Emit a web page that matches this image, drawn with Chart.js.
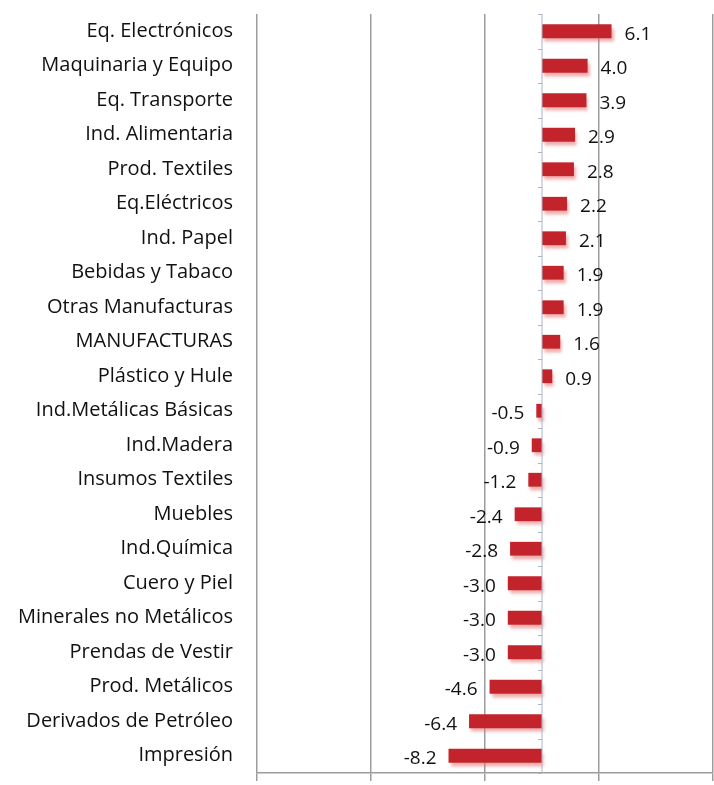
<!DOCTYPE html>
<html lang="es">
<head>
<meta charset="UTF-8">
<title>Crecimiento por rama</title>
<script src="https://cdn.jsdelivr.net/npm/chart.js"></script>
<style>
  html, body { margin: 0; padding: 0; background: #fff; }
  #wrap { position: relative; width: 714px; height: 785px; }
</style>
</head>
<body>
<div id="wrap"><canvas id="grafica"></canvas></div>
<script>
  const ramas = [
    "Eq. Electrónicos", "Maquinaria y Equipo", "Eq. Transporte", "Ind. Alimentaria",
    "Prod. Textiles", "Eq.Eléctricos", "Ind. Papel", "Bebidas y Tabaco",
    "Otras Manufacturas", "MANUFACTURAS", "Plástico y Hule", "Ind.Metálicas Básicas",
    "Ind.Madera", "Insumos Textiles", "Muebles", "Ind.Química", "Cuero y Piel",
    "Minerales no Metálicos", "Prendas de Vestir", "Prod. Metálicos",
    "Derivados de Petróleo", "Impresión"
  ];
  const variacion = [
    6.1, 4.0, 3.9, 2.9, 2.8, 2.2, 2.1, 1.9, 1.9, 1.6, 0.9,
    -0.5, -0.9, -1.2, -2.4, -2.8, -3.0, -3.0, -3.0, -4.6, -6.4, -8.2
  ];
  const ejeMin = -25, ejeMax = 15, paso = 10;

  const fuente = "'Open Sans', sans-serif";

  // linea del cero con sus marquitas entre categorias
  const lineaCero = {
    id: 'lineaCero',
    afterDatasetsDraw(chart) {
      const { ctx, chartArea, scales } = chart;
      const x0 = scales.x.getPixelForValue(0);
      ctx.save();
      ctx.strokeStyle = '#aab4c6';
      ctx.lineWidth = 1;
      ctx.beginPath();
      ctx.moveTo(x0, chartArea.top);
      ctx.lineTo(x0, chartArea.bottom);
      const n = ramas.length;
      const h = (chartArea.bottom - chartArea.top) / n;
      for (let i = 0; i <= n; i++) {
        const y = Math.round(chartArea.top + i * h) + 0.5;
        ctx.moveTo(x0 - 4, y);
        ctx.lineTo(x0, y);
      }
      ctx.stroke();
      ctx.restore();
    }
  };

  // valores junto a cada barra
  const etiquetas = {
    id: 'etiquetas',
    afterDatasetsDraw(chart) {
      const { ctx } = chart;
      const meta = chart.getDatasetMeta(0);
      ctx.save();
      ctx.font = "19px " + fuente;
      ctx.fillStyle = '#111';
      ctx.textBaseline = 'middle';
      meta.data.forEach((bar, i) => {
        const v = variacion[i];
        if (v >= 0) {
          ctx.textAlign = 'left';
          ctx.fillText(v.toFixed(1), bar.x + 13, bar.y + 3);
        } else {
          ctx.textAlign = 'right';
          ctx.fillText(v.toFixed(1), bar.x - 12, bar.y + 3);
        }
      });
      ctx.restore();
    }
  };

  // sombra rosada bajo las barras
  const sombra = {
    id: 'sombra',
    beforeDatasetDraw(chart) {
      const ctx = chart.ctx;
      ctx.save();
      ctx.shadowColor = 'rgba(225, 110, 110, 0.55)';
      ctx.shadowOffsetX = 2;
      ctx.shadowOffsetY = 4;
      ctx.shadowBlur = 3;
    },
    afterDatasetDraw(chart) {
      chart.ctx.restore();
    }
  };

  new Chart(document.getElementById('grafica'), {
    type: 'bar',
    data: {
      labels: ramas,
      datasets: [{
        data: variacion,
        backgroundColor: '#c3242b',
        barPercentage: 0.4,
        categoryPercentage: 1
      }]
    },
    options: {
      indexAxis: 'y',
      responsive: true,
      maintainAspectRatio: false,
      animation: false,
      layout: { padding: { top: 14, right: 1, left: 0, bottom: 0 } },
      plugins: { legend: { display: false }, tooltip: { enabled: false } },
      scales: {
        x: {
          min: ejeMin,
          max: ejeMax,
          ticks: { display: false, stepSize: paso },
          grid: { color: '#9c9c9c', lineWidth: 1.5, tickLength: 8, drawTicks: true },
          border: { color: '#9c9c9c', width: 1.5 },
          afterBuildTicks(s) {
            const t = [];
            for (let v = ejeMin; v <= ejeMax; v += paso) t.push({ value: v });
            s.ticks = t;
          },
          afterFit(s) {
            s.height = 12;
            s.paddingLeft = 0;
            s.paddingRight = 0;
          }
        },
        y: {
          grid: { display: false },
          border: { display: false },
          ticks: {
            color: '#111',
            font: { family: fuente, size: 20 },
            padding: 16,
            autoSkip: false
          },
          afterFit(s) {
            s.width = 257;
            s.paddingTop = 0;
            s.paddingBottom = 0;
          }
        }
      }
    },
    plugins: [sombra, lineaCero, etiquetas]
  });
</script>
</body>
</html>
